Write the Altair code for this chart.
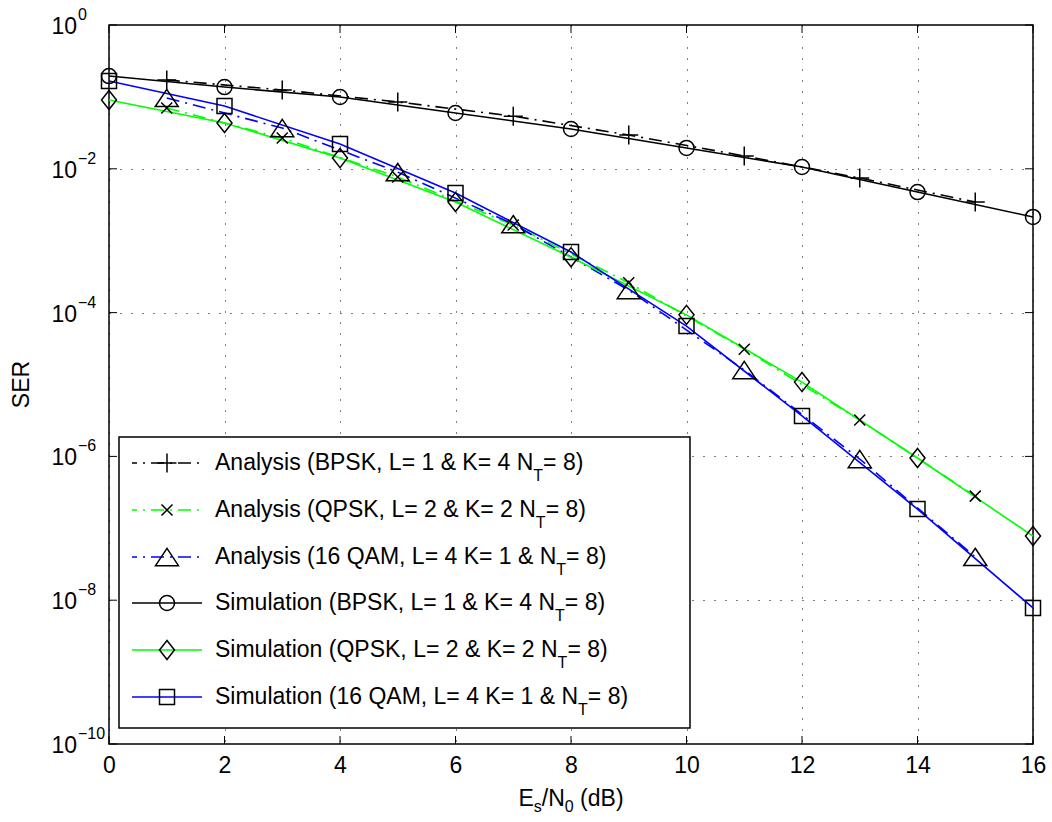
import altair as alt
import pandas as pd

# ---------------- data ----------------
x_odd = [1, 3, 5, 7, 9, 11, 13, 15]
x_even = [0, 2, 4, 6, 8, 10, 12, 14, 16]

ana_bpsk = [0.172, 0.125, 0.085, 0.054, 0.0295, 0.0151, 0.00745, 0.00345]
ana_qpsk = [0.070, 0.0268, 0.0077, 1.65e-3, 2.6e-4, 3.1e-5, 3.2e-6, 2.8e-7]
ana_qam16 = [0.0966, 0.0369, 0.0090, 1.7e-3, 2.06e-4, 1.59e-5, 9.2e-7, 4.0e-8]
sim_bpsk = [0.195, 0.137, 0.0997, 0.0597, 0.0358, 0.0195, 0.0106, 0.00475, 0.00214]
sim_qpsk = [0.0906, 0.0434, 0.0141, 0.00345, 5.9e-4, 9.3e-5, 1.08e-5, 9.5e-7, 7.8e-8]
sim_qam16 = [0.166, 0.0747, 0.0221, 0.0046, 6.97e-4, 6.5e-5, 3.65e-6, 1.85e-7, 7.8e-9]

legend_main = [
    "Analysis (BPSK, L= 1 & K= 4 N",
    "Analysis (QPSK, L= 2 & K= 2 N",
    "Analysis (16 QAM, L= 4 K= 1 & N",
    "Simulation (BPSK, L= 1 & K= 4 N",
    "Simulation (QPSK, L= 2 & K= 2 N",
    "Simulation (16 QAM, L= 4 K= 1 & N",
]
legend_sub = "T"
legend_tail = "= 8)"

x_ticks = [0, 2, 4, 6, 8, 10, 12, 14, 16]
y_grid = [1e-2, 1e-4, 1e-6, 1e-8]
y_tick_vals = [1, 1e-2, 1e-4, 1e-6, 1e-8, 1e-10]
y_tick_exp = ["0", "\u22122", "\u22124", "\u22126", "\u22128", "\u221210"]

# ---------------- styling ----------------
FONT = "Liberation Sans"
FS = 23
FSUB = 16
W, H = 924, 719
BLACK, GREEN, BLUE = "#000000", "#00ff00", "#0000ff"
DASHDOT = [13, 6, 2, 6]
LW = 1.6

SHAPES = {
    "plus": ("M-1,0H1M0,-1V1", 361),
    "cross": ("M-1,-1L1,1M-1,1L1,-1", 121),
    "tri": ("M0,-0.75L1,0.75L-1,0.75Z", 529),
    "circle": ("circle", 225),
    "diamond": ("M0,-1.27L1,0L0,1.27L-1,0Z", 225),
    "square": ("square", 225),
}

series = [
    (x_odd, ana_bpsk, BLACK, DASHDOT, "plus"),
    (x_odd, ana_qpsk, GREEN, DASHDOT, "cross"),
    (x_odd, ana_qam16, BLUE, DASHDOT, "tri"),
    (x_even, sim_bpsk, BLACK, None, "circle"),
    (x_even, sim_qpsk, GREEN, None, "diamond"),
    (x_even, sim_qam16, BLUE, None, "square"),
]

# Helvetica / Arial advance widths (1/1000 em)
CW = {' ': 278, '(': 333, ')': 333, ',': 278, '&': 667, '=': 584,
      '/': 278, '\u2212': 584, '-': 333, 'A': 667, 'B': 667, 'C': 722, 'D': 722,
      'E': 667, 'K': 667, 'L': 556, 'M': 833, 'N': 722, 'P': 667, 'Q': 778,
      'R': 722, 'S': 667, 'T': 611, 'a': 556, 'b': 556, 'd': 556, 'i': 222,
      'l': 222, 'm': 833, 'n': 556, 'o': 556, 's': 500, 't': 278, 'u': 556, 'y': 500}


def tw(s, size):
    return sum(CW.get(c, 556) for c in s) * size / 1000.0


xscale = alt.Scale(domain=[0, 16], nice=False, zero=False)
yscale = alt.Scale(type="log", domain=[1e-10, 1], nice=False)
xaxis = alt.Axis(values=x_ticks, ticks=False, domain=False, grid=True,
                 gridColor="black", gridDash=[1, 10], gridWidth=1, gridOpacity=1,
                 labelFont=FONT, labelFontSize=FS, labelColor="black",
                 labelPadding=10, labelFlush=False, title=None)
yaxis = alt.Axis(values=y_grid, labels=False, ticks=False, domain=False, grid=True,
                 gridColor="black", gridDash=[1, 10], gridWidth=1, gridOpacity=1,
                 title=None)

one = pd.DataFrame({"a": [0]})
layers = []

# inside ticks
dfx = pd.DataFrame({"t": x_ticks})
dfy = pd.DataFrame({"t": y_tick_vals})
for (a, b) in [(H - 8, H), (0, 8)]:
    layers.append(alt.Chart(dfx).mark_rule(color="black", strokeWidth=1).encode(
        x=alt.X("t:Q", scale=xscale, axis=xaxis), y=alt.value(a), y2=alt.value(b)))
for (a, b) in [(0, 8), (W - 8, W)]:
    layers.append(alt.Chart(dfy).mark_rule(color="black", strokeWidth=1).encode(
        y=alt.Y("t:Q", scale=yscale, axis=yaxis), x=alt.value(a), x2=alt.value(b)))

# curves
for xs, ys, col, dash, shp in series:
    df = pd.DataFrame({"x": xs, "y": ys})
    kw = dict(color=col, strokeWidth=LW)
    if dash:
        kw["strokeDash"] = dash
    layers.append(alt.Chart(df).mark_line(**kw).encode(
        x=alt.X("x:Q", scale=xscale, axis=xaxis),
        y=alt.Y("y:Q", scale=yscale, axis=yaxis)))
for xs, ys, col, dash, shp in series:
    df = pd.DataFrame({"x": xs, "y": ys})
    path, size = SHAPES[shp]
    layers.append(alt.Chart(df).mark_point(
        shape=path, size=size, filled=False, stroke="black", strokeWidth=1.5,
        opacity=1).encode(
        x=alt.X("x:Q", scale=xscale, axis=xaxis),
        y=alt.Y("y:Q", scale=yscale, axis=yaxis)))

# y tick labels with superscripts
dft = pd.DataFrame({"v": y_tick_vals, "e": y_tick_exp})
layers.append(alt.Chart(dft).mark_text(
    text="10", align="right", baseline="alphabetic", font=FONT, fontSize=FS,
    color="black", dy=9).encode(
    x=alt.value(-32), y=alt.Y("v:Q", scale=yscale, axis=yaxis)))
layers.append(alt.Chart(dft).mark_text(
    align="left", baseline="alphabetic", font=FONT, fontSize=FSUB,
    color="black", dy=-5).encode(
    x=alt.value(-31), y=alt.Y("v:Q", scale=yscale, axis=yaxis),
    text=alt.Text("e:N")))


def txt(s, x, y, size=FS, align="left", baseline="alphabetic", angle=0):
    return alt.Chart(one).mark_text(
        text=s, align=align, baseline=baseline, font=FONT, fontSize=size,
        color="black", angle=angle).encode(x=alt.value(x), y=alt.value(y))


# axis titles
layers.append(txt("SER", -87, H / 2, size=FS, align="center",
                  baseline="middle", angle=270))
# (text, font size, vertical drop, extra gap before)
title_parts = [("E", FS, 0, 0), ("s", FSUB, 6, 0), ("/N", FS, 0, 0),
               ("0", FSUB, 6, 0), ("(dB)", FS, 0, tw(" ", FS))]
total = sum(tw(s, sz) + g for s, sz, _, g in title_parts)
cx = W / 2 - total / 2
for s, sz, dy, gap in title_parts:
    cx += gap
    layers.append(txt(s, cx, H + 62 + dy, size=sz))
    cx += tw(s, sz)

# legend
LX0, LX1, LY0, LY1 = 10, 581, 412, 703
layers.append(alt.Chart(one).mark_rect(fill="white", stroke="black", strokeWidth=1.5).encode(
    x=alt.value(LX0), x2=alt.value(LX1), y=alt.value(LY0), y2=alt.value(LY1)))
row_y = [438, 485, 532, 578, 625, 672]
for i, (xs, ys, col, dash, shp) in enumerate(series):
    ry = row_y[i]
    kw = dict(color=col, strokeWidth=LW)
    if dash:
        kw["strokeDash"] = dash
        kw["strokeDashOffset"] = 8
    layers.append(alt.Chart(one).mark_rule(**kw).encode(
        x=alt.value(23), x2=alt.value(93), y=alt.value(ry)))
    path, size = SHAPES[shp]
    layers.append(alt.Chart(one).mark_point(
        shape=path, size=size, filled=False, stroke="black", strokeWidth=1.5,
        opacity=1).encode(x=alt.value(58), y=alt.value(ry)))
    tx = 106
    layers.append(txt(legend_main[i], tx, ry + 7))
    tx += tw(legend_main[i], FS)
    layers.append(txt(legend_sub, tx, ry + 18, size=FSUB))
    tx += tw(legend_sub, FSUB)
    layers.append(txt(legend_tail, tx, ry + 7))

chart = alt.layer(*layers).properties(
    width=W, height=H,
    autosize=alt.AutoSizeParams(type="none"),
    padding={"left": 109, "top": 25, "right": 19, "bottom": 78},
    background="white",
).configure_view(stroke="black", strokeWidth=1.5)

chart.save("out.html", embed_options={"renderer": "svg", "actions": False})
